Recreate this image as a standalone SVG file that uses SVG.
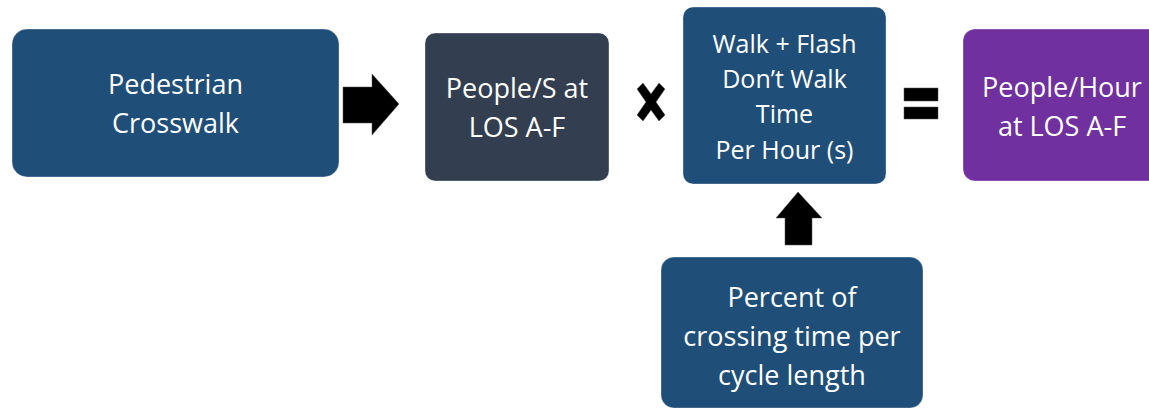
<svg xmlns="http://www.w3.org/2000/svg" width="1149" height="410" viewBox="0 0 1149 410">
<style>
.box{stroke:#ffffff;stroke-opacity:0.35;stroke-width:1}
.blue{fill:#1F4E79}
.slate{fill:#333F50}
.purple{fill:#7030A0}
.t{font-family:"Open Sans","Noto Sans",sans-serif;fill:#ffffff;text-anchor:middle;font-size:27px}
.t2{font-family:"Open Sans","Noto Sans",sans-serif;fill:#ffffff;text-anchor:middle;font-size:25px}
.sym{fill:#000000;stroke:#555555;stroke-width:0.5}
</style>
<rect width="1149" height="410" fill="#ffffff"/>
<g id="node-crosswalk">
<rect class="box blue" x="12" y="29" width="327" height="148" rx="15"/>
<text class="t" x="175.5" y="94">Pedestrian</text>
<text class="t" x="175.5" y="133">Crosswalk</text>
</g>
<g id="node-people-s">
<rect class="box slate" x="425" y="33" width="184" height="148" rx="10"/>
<text class="t" x="517" y="98">People/S at</text>
<text class="t" x="517" y="137">LOS A-F</text>
</g>
<g id="node-walk-time">
<rect class="box blue" x="683" y="7" width="203" height="177" rx="10"/>
<text class="t2" x="784.5" y="53">Walk + Flash</text>
<text class="t2" x="784.5" y="88">Don’t Walk</text>
<text class="t2" x="784.5" y="123">Time</text>
<text class="t2" x="784.5" y="159">Per Hour (s)</text>
</g>
<g id="node-people-hour">
<rect class="box purple" x="963" y="29" width="198" height="152" rx="12"/>
<text class="t" x="1062" y="97">People/Hour</text>
<text class="t" x="1062" y="136">at LOS A-F</text>
</g>
<g id="node-percent">
<rect class="box blue" x="661" y="257" width="262" height="151" rx="13"/>
<text class="t" x="792" y="307">Percent of</text>
<text class="t" x="792" y="346">crossing time per</text>
<text class="t" x="792" y="385">cycle length</text>
</g>
<g id="connectors">
<polygon class="sym" points="343,87 372,87 372,74 399,104 372,135 372,123 343,123"/>
<polygon class="sym" points="643,83 651,94 659,83 665,89 656,102 665,115 659,121 651,110 643,121 637,115 646,102 637,89"/>
<rect class="sym" x="904" y="88" width="34" height="13"/>
<rect class="sym" x="904" y="107" width="34" height="12"/>
<polygon class="sym" points="798,192 822,218 812,218 812,245 785,245 785,218 776,218"/>
</g>
</svg>
